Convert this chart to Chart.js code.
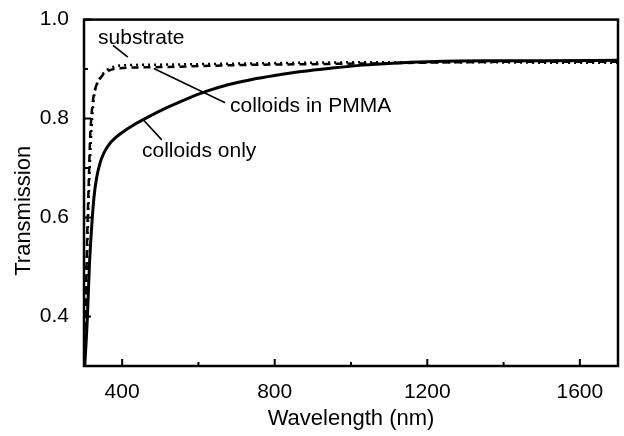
<!DOCTYPE html>
<html>
<head>
<meta charset="utf-8">
<script src="https://cdn.jsdelivr.net/npm/chart.js@4/dist/chart.umd.min.js"></script>
<style>
  html, body { margin: 0; padding: 0; background: #fff; }
  #wrap { width: 624px; height: 436px; }
</style>
</head>
<body>
<div id="wrap"><canvas id="trans-chart" width="624" height="436"></canvas></div>
<script>
// --- data ---
const substrateX = [300, 304, 308, 312, 316, 320, 325, 330, 340, 350, 365, 400, 500, 600, 700, 900, 1100, 1300, 1500, 1700];
const substrateY = [0.30, 0.40, 0.55, 0.66, 0.76, 0.81, 0.845, 0.862, 0.878, 0.889, 0.897, 0.902, 0.904, 0.906, 0.908, 0.910, 0.912, 0.914, 0.915, 0.915];

const pmmaX = [300, 305, 310, 315, 320, 325, 330, 335, 345, 360, 380, 420, 500, 700, 900, 1100, 1300, 1500, 1700];
const pmmaY = [0.30, 0.43, 0.58, 0.70, 0.785, 0.835, 0.86, 0.872, 0.886, 0.898, 0.905, 0.908, 0.909, 0.911, 0.913, 0.914, 0.914, 0.913, 0.913];

const colloidsX = [302, 309, 314, 320, 326, 333, 342, 352, 366, 382, 400, 430, 470, 520, 570, 620, 680, 740, 800, 870, 950, 1030, 1110, 1200, 1350, 1500, 1700];
const colloidsY = [0.30, 0.40, 0.50, 0.58, 0.64, 0.68, 0.71, 0.73, 0.748, 0.761, 0.772, 0.787, 0.804, 0.823, 0.84, 0.855, 0.869, 0.879, 0.887, 0.895, 0.902, 0.908, 0.912, 0.915, 0.917, 0.917, 0.918];

const xMajorTicks = [400, 800, 1200, 1600];
const xMinorTicks = [600, 1000, 1400];
const yMajorTicks = [0.4, 0.6, 0.8, 1.0];
const yMinorTicks = [0.5, 0.7, 0.9];

// curve labels and their leader lines (data units)
const labelTexts = ['substrate', 'colloids in PMMA', 'colloids only'];
const labelX = [337, 683, 452];
const labelY = [0.95, 0.814, 0.722];
const leaderFromX = [376, 483, 456];
const leaderFromY = [0.948, 0.901, 0.797];
const leaderToX = [415, 670, 504];
const leaderToY = [0.924, 0.832, 0.757];

const FONT = "'Liberation Sans', Arial, Helvetica, sans-serif";

const toPts = (xs, ys) => xs.map((x, i) => ({ x, y: ys[i] }));

// frame, inward ticks, labels, y title
const decorPlugin = {
    id: 'decor',
    afterDatasetsDraw(chart) {
        const { ctx, chartArea: a, scales } = chart;
        const xs = scales.x, ys = scales.y;
        ctx.save();
        ctx.strokeStyle = '#000';
        ctx.lineWidth = 2.5;
        ctx.strokeRect(a.left, a.top, a.right - a.left, a.bottom - a.top);

        ctx.lineWidth = 2;
        ctx.beginPath();
        xMajorTicks.forEach(v => { const p = xs.getPixelForValue(v); ctx.moveTo(p, a.bottom); ctx.lineTo(p, a.bottom - 7); });
        xMinorTicks.forEach(v => { const p = xs.getPixelForValue(v); ctx.moveTo(p, a.bottom); ctx.lineTo(p, a.bottom - 4); });
        yMajorTicks.forEach(v => { const p = ys.getPixelForValue(v); ctx.moveTo(a.left, p); ctx.lineTo(a.left + 7, p); });
        yMinorTicks.forEach(v => { const p = ys.getPixelForValue(v); ctx.moveTo(a.left, p); ctx.lineTo(a.left + 4, p); });
        ctx.stroke();

        // leader lines
        ctx.lineWidth = 1.6;
        ctx.beginPath();
        leaderFromX.forEach((fx, i) => {
            ctx.moveTo(xs.getPixelForValue(fx), ys.getPixelForValue(leaderFromY[i]));
            ctx.lineTo(xs.getPixelForValue(leaderToX[i]), ys.getPixelForValue(leaderToY[i]));
        });
        ctx.stroke();

        ctx.fillStyle = '#000';
        ctx.font = '21px ' + FONT;
        ctx.textAlign = 'left';
        ctx.textBaseline = 'alphabetic';
        labelTexts.forEach((t, i) => {
            ctx.fillText(t, xs.getPixelForValue(labelX[i]), ys.getPixelForValue(labelY[i]));
        });

        // y axis title (sits a bit below the plot centre in the original)
        ctx.font = '22px ' + FONT;
        ctx.textAlign = 'center';
        ctx.textBaseline = 'middle';
        ctx.translate(24, (a.top + a.bottom) / 2 + 18);
        ctx.rotate(-Math.PI / 2);
        ctx.fillText('Transmission', 0, 0);
        ctx.restore();
    }
};

const lineStyle = { borderColor: '#000', backgroundColor: '#000', pointRadius: 0, cubicInterpolationMode: 'monotone', fill: false };

new Chart(document.getElementById('trans-chart'), {
    type: 'line',
    data: {
        datasets: [
            { label: 'colloids only', data: toPts(colloidsX, colloidsY), borderWidth: 3, ...lineStyle },
            { label: 'substrate', data: toPts(substrateX, substrateY), borderWidth: 2.5, borderDash: [7, 5], ...lineStyle },
            { label: 'colloids in PMMA', data: toPts(pmmaX, pmmaY), borderWidth: 2.5, borderDash: [2, 4], ...lineStyle }
        ]
    },
    options: {
        responsive: false,
        animation: false,
        devicePixelRatio: 1,
        layout: { padding: { top: 17, right: 6, left: 0, bottom: 0 } },
        plugins: { legend: { display: false }, tooltip: { enabled: false } },
        scales: {
            x: {
                type: 'linear', min: 300, max: 1700,
                grid: { display: false }, border: { display: false },
                afterBuildTicks: s => { s.ticks = xMajorTicks.map(v => ({ value: v })); },
                afterFit: s => { s.height = 70; },
                ticks: { color: '#000', padding: 6, font: { family: FONT, size: 21 }, callback: v => String(v) },
                title: { display: true, text: 'Wavelength (nm)', color: '#000', font: { family: FONT, size: 22 }, padding: { top: 0, bottom: 4 } }
            },
            y: {
                type: 'linear', min: 0.3, max: 1.0,
                grid: { display: false }, border: { display: false },
                afterBuildTicks: s => { s.ticks = yMajorTicks.map(v => ({ value: v })); },
                afterFit: s => { s.width = 84; },
                ticks: { color: '#000', padding: 7, font: { family: FONT, size: 21 }, callback: v => Number(v).toFixed(1) }
            }
        }
    },
    plugins: [decorPlugin]
});
</script>
</body>
</html>
